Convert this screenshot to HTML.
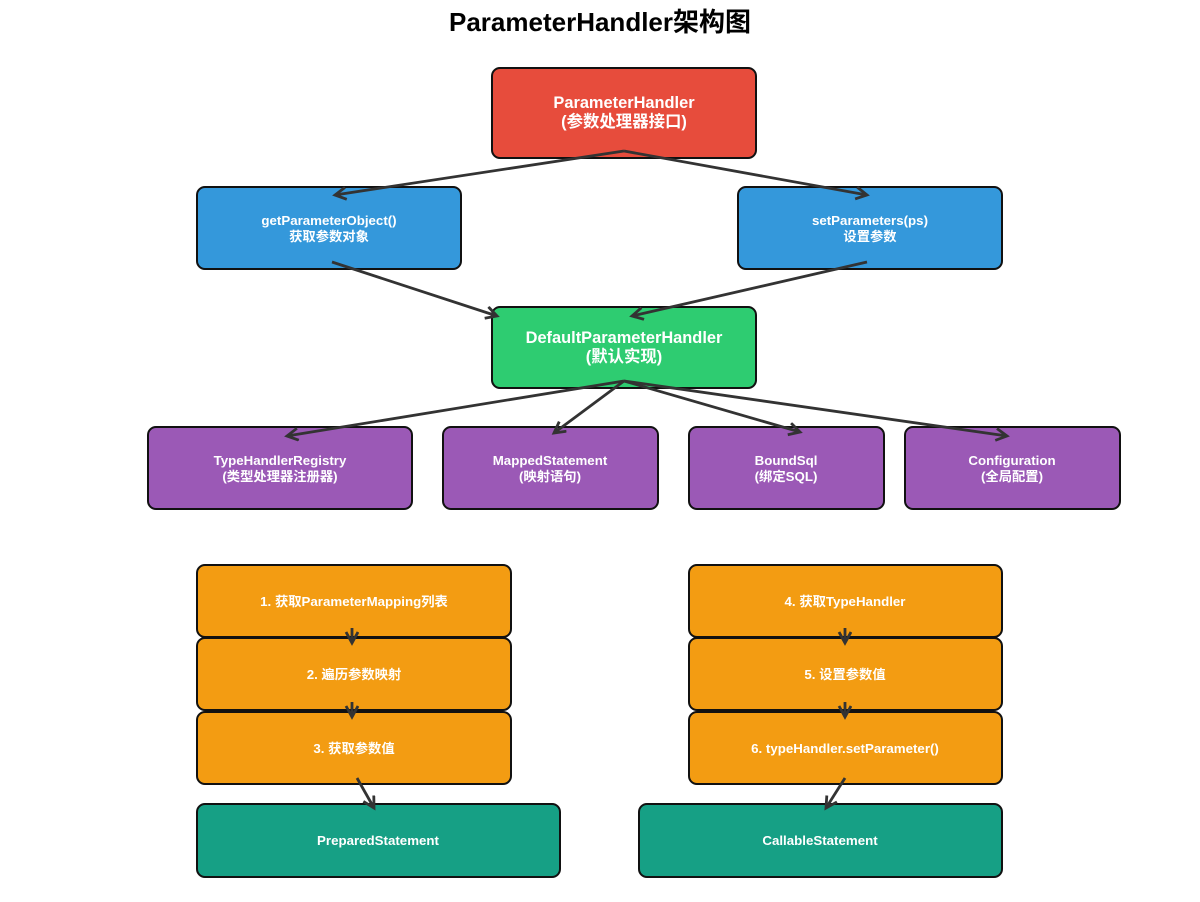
<!DOCTYPE html>
<html><head><meta charset="utf-8"><style>
html,body{margin:0;padding:0;background:#fff;}
svg text{font-family:"Liberation Sans","Noto Sans CJK SC",sans-serif;font-weight:bold;fill:#fff;text-anchor:middle;}
</style></head><body>
<svg width="1200" height="897" viewBox="0 0 1200 897" xmlns="http://www.w3.org/2000/svg">
<defs>
<marker id="a" markerWidth="16" markerHeight="16" refX="12" refY="7" orient="auto" markerUnits="userSpaceOnUse">
<path d="M1,1 L12,7 L1,13" fill="none" stroke="#333" stroke-width="2.8"/>
</marker>
</defs>
<text x="600" y="31" font-size="26" style="fill:#000">ParameterHandler架构图</text>
<g stroke="#111" stroke-width="2">
<rect x="492" y="68" width="264" height="90" rx="8" fill="#e74c3c"/>
<rect x="197" y="187" width="264" height="82" rx="8" fill="#3498db"/>
<rect x="738" y="187" width="264" height="82" rx="8" fill="#3498db"/>
<rect x="492" y="307" width="264" height="81" rx="8" fill="#2ecc71"/>
<rect x="148" y="427" width="264" height="82" rx="8" fill="#9b59b6"/>
<rect x="443" y="427" width="215" height="82" rx="8" fill="#9b59b6"/>
<rect x="689" y="427" width="195" height="82" rx="8" fill="#9b59b6"/>
<rect x="905" y="427" width="215" height="82" rx="8" fill="#9b59b6"/>
<rect x="197" y="565" width="314" height="72" rx="8" fill="#f39c12"/>
<rect x="197" y="638" width="314" height="72" rx="8" fill="#f39c12"/>
<rect x="197" y="712" width="314" height="72" rx="8" fill="#f39c12"/>
<rect x="689" y="565" width="313" height="72" rx="8" fill="#f39c12"/>
<rect x="689" y="638" width="313" height="72" rx="8" fill="#f39c12"/>
<rect x="689" y="712" width="313" height="72" rx="8" fill="#f39c12"/>
<rect x="197" y="804" width="363" height="73" rx="8" fill="#16a085"/>
<rect x="639" y="804" width="363" height="73" rx="8" fill="#16a085"/>
</g>
<g stroke="#333" stroke-width="2.8" marker-end="url(#a)">
<line x1="624" y1="151" x2="335" y2="195"/>
<line x1="624" y1="151" x2="867" y2="195"/>
<line x1="332" y1="262" x2="497" y2="316"/>
<line x1="867" y1="262" x2="632" y2="316"/>
<line x1="624" y1="381" x2="287" y2="436"/>
<line x1="624" y1="381" x2="554" y2="433"/>
<line x1="624" y1="381" x2="800" y2="432"/>
<line x1="624" y1="381" x2="1007" y2="436"/>
<line x1="352" y1="628" x2="352" y2="643"/>
<line x1="352" y1="702" x2="352" y2="717"/>
<line x1="357" y1="778" x2="374" y2="808"/>
<line x1="845" y1="628" x2="845" y2="643"/>
<line x1="845" y1="702" x2="845" y2="717"/>
<line x1="845" y1="778" x2="826" y2="808"/>
</g>
<text x="624" y="108" font-size="16.4">ParameterHandler</text>
<text x="624" y="127" font-size="16.4">(参数处理器接口)</text>
<text x="329" y="225" font-size="13.3">getParameterObject()</text>
<text x="329" y="241" font-size="13.3">获取参数对象</text>
<text x="870" y="225" font-size="13.3">setParameters(ps)</text>
<text x="870" y="241" font-size="13.3">设置参数</text>
<text x="624" y="343" font-size="16.4">DefaultParameterHandler</text>
<text x="624" y="362" font-size="16.4">(默认实现)</text>
<text x="280" y="465" font-size="13.3">TypeHandlerRegistry</text>
<text x="280" y="481" font-size="13.3">(类型处理器注册器)</text>
<text x="550" y="465" font-size="13.3">MappedStatement</text>
<text x="550" y="481" font-size="13.3">(映射语句)</text>
<text x="786" y="465" font-size="13.3">BoundSql</text>
<text x="786" y="481" font-size="13.3">(绑定SQL)</text>
<text x="1012" y="465" font-size="13.3">Configuration</text>
<text x="1012" y="481" font-size="13.3">(全局配置)</text>
<text x="354" y="606" font-size="13.3">1. 获取ParameterMapping列表</text>
<text x="354" y="679" font-size="13.3">2. 遍历参数映射</text>
<text x="354" y="753" font-size="13.3">3. 获取参数值</text>
<text x="845" y="606" font-size="13.3">4. 获取TypeHandler</text>
<text x="845" y="679" font-size="13.3">5. 设置参数值</text>
<text x="845" y="753" font-size="13.3">6. typeHandler.setParameter()</text>
<text x="378" y="845" font-size="13.3">PreparedStatement</text>
<text x="820" y="845" font-size="13.3">CallableStatement</text>
</svg>
</body></html>
